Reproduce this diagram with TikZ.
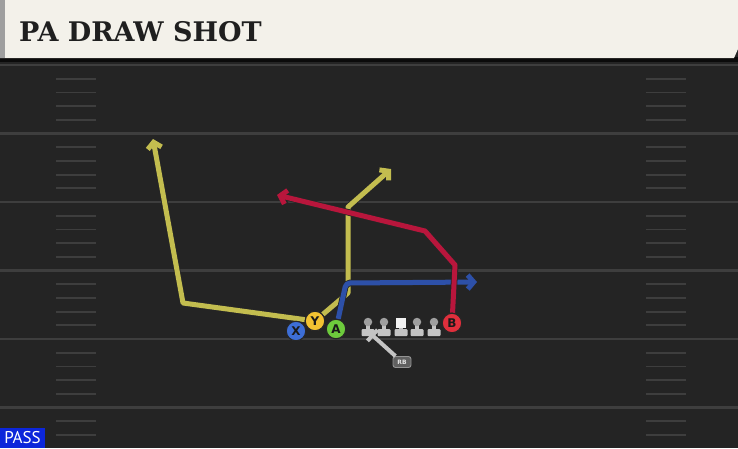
\documentclass[tikz,border=0pt]{standalone}
\usepackage{fontspec}
\setmainfont{DejaVu Sans}
\newfontfamily\titlefont{DejaVu Serif}
\newfontfamily\tagfont{PT Sans}
\usetikzlibrary{arrows.meta}
\definecolor{field}{HTML}{242424}
\definecolor{lineg}{HTML}{3E3E3E}
\definecolor{paper}{HTML}{F3F1EA}
\definecolor{xblue}{HTML}{3D6ED6}
\definecolor{yyel}{HTML}{F2C232}
\definecolor{agrn}{HTML}{6DCB3C}
\definecolor{bred}{HTML}{DF2F3C}
\definecolor{ryel}{HTML}{C3BD4F}
\definecolor{rblue}{HTML}{2D50A8}
\definecolor{rred}{HTML}{B8163C}
\definecolor{olgray}{HTML}{C4C4C4}
\definecolor{passblue}{HTML}{0C26DA}
\pgfdeclarelayer{bg}
\pgfdeclarelayer{mid}
\pgfsetlayers{bg,mid,main}
\tikzset{%
  yline/.style={draw=lineg,line width=2.2pt},
  hash/.style={draw=lineg,line width=1.8pt},
  route/.style={line width=5pt,line join=round,-{Straight Barb[length=6pt,width=14pt]},
    preaction={draw=black!85,line width=6.6pt}},
  player/.style={draw=black!85,line width=1.1pt,shape=circle,minimum size=19.5pt,inner sep=0,
    font=\bfseries\fontsize{12}{12}\selectfont,text=black!90},
  lbody/.style={fill=olgray},
  lhead/.style={draw=none,shape=circle,fill=gray!75,minimum size=8.5pt,inner sep=0},
  chead/.style={draw=none,shape=rectangle,fill=white!95!black,minimum width=10pt,minimum height=10pt,inner sep=0},
  rbbox/.style={draw=gray!85,line width=0.9pt,fill=gray!75!black,rounded corners=2.5pt,minimum width=18pt,
    minimum height=11pt,inner sep=0,font=\bfseries\fontsize{6}{6}\selectfont,text=white!90!black},
  block/.style={draw=olgray,line width=4pt,-{Bar[width=15pt,line width=4pt]}}
}
\begin{document}
\begin{tikzpicture}[x=1pt,y=-1pt]
  \useasboundingbox (0,0) rectangle (738,448);
  \begin{pgfonlayer}{bg}
    % field and header
    \fill[field] (0,0) rectangle (738,448);
    \fill[black!70!field] (0,57) rectangle (738,62);
    \foreach \k in {0,...,5}
      \draw[yline] (0,65+68.5*\k) -- (738,65+68.5*\k);
    \foreach \n in {1,2,3,4,6,7,8,9,11,12,13,14,16,17,18,19,21,22,23,24,26,27}{
      \draw[hash] (56,65+13.7*\n) -- (96,65+13.7*\n);
      \draw[hash] (646,65+13.7*\n) -- (686,65+13.7*\n);
    }
    \fill[paper] (0,0) -- (738,0) -- (738,49) -- (734,58) -- (0,58) -- cycle;
    \fill[gray!75] (0,0) rectangle (5,58);
  \end{pgfonlayer}
  \node[anchor=west,inner sep=0,font=\titlefont\bfseries\fontsize{27}{27}\selectfont,text=black!88] (title) at (19,32) {PA DRAW SHOT};
  \node[fill=passblue,minimum width=45pt,minimum height=20pt,inner sep=0,text=white,
    font=\tagfont\fontsize{17}{17}\selectfont] (tag) at (22.5,438) {PASS};
  % players
  \path
    (296,331) node[player,fill=xblue] (X) {X}
    (315,321) node[player,fill=yyel] (Y) {Y}
    (336,329) node[player,fill=agrn] (A) {A}
    (452,323) node[player,fill=bred] (B) {B};
  % line
  \foreach \x/\n in {368/1,384/2,417/4,434/5}{
    \fill[lbody] (\x-2.2,322) rectangle (\x+2.2,331);
    \fill[lbody,rounded corners=1pt] (\x-6.5,329) rectangle (\x+6.5,336);
    \node[lhead] (lm\n) at (\x,322) {};
  }
  \fill[lbody] (398.8,325) rectangle (403.2,331);
  \fill[lbody,rounded corners=1pt] (394.5,329) rectangle (407.5,336);
  \node[chead] (ctr) at (401,322.5) {};
  \node[rbbox] (RB) at (402,362) {RB};
  \coordinate (rbend) at (371,334);
  \draw[block] (RB) -- (rbend);
  % routes
  \coordinate (y1a) at (183,303);
  \coordinate (y1b) at (153,139);
  \coordinate (y2a) at (348,293);
  \coordinate (y2b) at (348,207);
  \coordinate (y2c) at (391,169);
  \coordinate (b1a) at (346,283);
  \coordinate (b1b) at (477,282);
  \coordinate (r1a) at (455,265);
  \coordinate (r1b) at (425,231);
  \coordinate (r1c) at (277,195);
  \begin{pgfonlayer}{mid}
    \draw[route,draw=ryel] (Y) -- (y1a) -- (y1b);
    \draw[route,draw=ryel] (Y) -- (y2a) -- (y2b) -- (y2c);
    \draw[route,draw=rblue,rounded corners=4pt] (A) -- (b1a) -- (b1b);
    \draw[route,draw=rred] (B) -- (r1a) -- (r1b) -- (r1c);
  \end{pgfonlayer}
\end{tikzpicture}
\end{document}
